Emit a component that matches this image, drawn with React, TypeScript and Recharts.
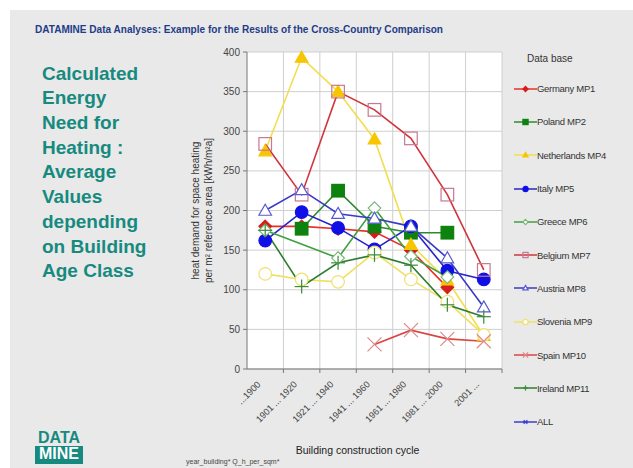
import React from "react";
import { LineChart, Line, XAxis, YAxis, CartesianGrid, Legend } from "recharts";

const categories = ["...1900", "1901 ... 1920", "1921 ... 1940", "1941 ... 1960", "1961 ... 1980", "1981 ... 2000", "2001 ..."];
const germany = [180, 180, 177, 173, 150, 103, null];
const poland = [null, 177, 225, 180, 172, 172, null];
const netherlands = [275, 393, 350, 290, 157, 112, 42];
const italy = [162, 198, 178, 151, 180, 124, 113];
const greece = [175, null, 140, 203, 142, 116, null];
const belgium = [284, 220, 350, 327, 291, 220, 125];
const austria = [200, 226, 196, 190, 180, 140, 78];
const slovenia = [120, 113, 110, 147, 113, 85, 43];
const spain = [null, null, null, 31, 49, 38, 35];
const ireland = [175, 104, 134, 144, 131, 81, 66];
const allSeries = [null, null, null, null, null, null, null];
const yTicks = [0, 50, 100, 150, 200, 250, 300, 350, 400];

const seriesDefs = [
  { key: "germany", name: "Germany MP1", values: germany, line: "#e8302a", marker: "diamond", mfill: "#d81c1c", mstroke: "#d81c1c" },
  { key: "poland", name: "Poland MP2", values: poland, line: "#2f8a2f", marker: "square", mfill: "#0e820e", mstroke: "#0e820e" },
  { key: "netherlands", name: "Netherlands MP4", values: netherlands, line: "#f2de4e", marker: "triangle", mfill: "#f7c600", mstroke: "#f7c600" },
  { key: "italy", name: "Italy MP5", values: italy, line: "#2424c8", marker: "circle", mfill: "#1010e6", mstroke: "#1010e6" },
  { key: "greece", name: "Greece MP6", values: greece, line: "#40a040", marker: "diamond", mfill: "#ffffff", mstroke: "#7ab87a", connect: true },
  { key: "belgium", name: "Belgium MP7", values: belgium, line: "#d0343c", marker: "square", mfill: "none", mstroke: "#c87890" },
  { key: "austria", name: "Austria MP8", values: austria, line: "#3a3ac8", marker: "triangle", mfill: "#ffffff", mstroke: "#5a5ad0" },
  { key: "slovenia", name: "Slovenia MP9", values: slovenia, line: "#f0e060", marker: "circle", mfill: "#ffffff", mstroke: "#f0e070" },
  { key: "spain", name: "Spain MP10", values: spain, line: "#dc4444", marker: "x", mfill: "none", mstroke: "#e08888" },
  { key: "ireland", name: "Ireland MP11", values: ireland, line: "#2e7d2e", marker: "plus", mfill: "none", mstroke: "#3a8a3a" },
  { key: "all", name: "ALL", values: allSeries, line: "#3c3cd0", marker: "star", mfill: "#3c3cd0", mstroke: "#3c3cd0" },
];

const data = categories.map((c, i) => {
  const row: any = { cat: c };
  seriesDefs.forEach((s) => (row[s.key] = s.values[i]));
  return row;
});

const W = 633;
const H = 468;
const M = { top: 52, right: 131, bottom: 39, left: 187 };
const Y_W = 60;
const X_H = 60;
const PLOT_W = W - M.left - Y_W - M.right;
const BAND = PLOT_W / categories.length;

function Marker({ type, cx, cy, r, fill, stroke }: any) {
  if (cx == null || cy == null) return null;
  switch (type) {
    case "diamond":
      return <polygon points={`${cx},${cy - r} ${cx + r},${cy} ${cx},${cy + r} ${cx - r},${cy}`} fill={fill} stroke={stroke} strokeWidth={1.2} />;
    case "square":
      return <rect x={cx - r} y={cy - r} width={2 * r} height={2 * r} fill={fill} stroke={stroke} strokeWidth={1.2} />;
    case "triangle":
      return <polygon points={`${cx},${cy - r} ${cx + r},${cy + r * 0.75} ${cx - r},${cy + r * 0.75}`} fill={fill} stroke={stroke} strokeWidth={1.2} />;
    case "circle":
      return <circle cx={cx} cy={cy} r={r} fill={fill} stroke={stroke} strokeWidth={1.2} />;
    case "x":
      return <g stroke={stroke} strokeWidth={1.2}><line x1={cx - r} y1={cy - r} x2={cx + r} y2={cy + r} /><line x1={cx - r} y1={cy + r} x2={cx + r} y2={cy - r} /></g>;
    case "plus":
      return <g stroke={stroke} strokeWidth={1.2}><line x1={cx - r} y1={cy} x2={cx + r} y2={cy} /><line x1={cx} y1={cy - r} x2={cx} y2={cy + r} /></g>;
    case "star":
      return <g stroke={stroke} strokeWidth={1.2}><line x1={cx - r} y1={cy} x2={cx + r} y2={cy} /><line x1={cx - r * 0.7} y1={cy - r * 0.7} x2={cx + r * 0.7} y2={cy + r * 0.7} /><line x1={cx - r * 0.7} y1={cy + r * 0.7} x2={cx + r * 0.7} y2={cy - r * 0.7} /></g>;
    default:
      return null;
  }
}

const makeDot = (s: any) => (props: any) => {
  const { cx, cy, index, value } = props;
  if (value == null || cx == null || cy == null) return <g key={`${s.key}-${index}`} />;
  const r = s.marker === "x" || s.marker === "plus" ? 7 : 6.3;
  return (
    <g key={`${s.key}-${index}`}>
      <Marker type={s.marker} cx={cx} cy={cy} r={r} fill={s.mfill} stroke={s.mstroke} />
    </g>
  );
};

const XTick = (props: any) => {
  const { x, y, payload } = props;
  const tx = x - 4;
  const ty = y + 16;
  return (
    <g>
      <line x1={x + BAND / 2} x2={x + BAND / 2} y1={y} y2={y + 4} stroke="#777" />
      <text x={tx} y={ty} textAnchor="end" transform={`rotate(-45 ${tx} ${ty})`} fontSize={9.2} fill="#444" fontFamily="Liberation Sans, Arial, sans-serif">
        {payload.value}
      </text>
    </g>
  );
};

const XLabel = (props: any) => {
  const vb = props.viewBox || {};
  const cx = vb.x + vb.width / 2 - 17;
  return (
    <text x={cx} y={vb.y + 85} textAnchor="middle" fontSize={10.5} fill="#222" fontFamily="Liberation Sans, Arial, sans-serif">
      Building construction cycle
    </text>
  );
};

const YLabel = (props: any) => {
  const vb = props.viewBox || {};
  const cy = vb.y + vb.height / 2;
  const x1 = vb.x + 12;
  const x2 = vb.x + 25;
  return (
    <g fontSize={10} fill="#333" fontFamily="Liberation Sans, Arial, sans-serif">
      <text x={x1} y={cy} textAnchor="middle" transform={`rotate(-90 ${x1} ${cy})`}>heat demand for space heating</text>
      <text x={x2} y={cy} textAnchor="middle" transform={`rotate(-90 ${x2} ${cy})`}>per m² reference area [kWh/m²a]</text>
    </g>
  );
};

const renderLegend = () => (
  <div style={{ fontFamily: "Liberation Sans, Arial, sans-serif", color: "#333", textAlign: "left" }}>
    <div style={{ fontSize: 10, marginLeft: 22, height: 26, lineHeight: "26px" }}>Data base</div>
    {seriesDefs.map((s) => (
      <div key={s.key} style={{ display: "flex", alignItems: "center", height: 33.3 }}>
        <svg width={23} height={12} style={{ marginLeft: 9 }}>
          <line x1={0} y1={6} x2={23} y2={6} stroke={s.line} strokeWidth={1.5} />
          <Marker type={s.marker} cx={11.5} cy={6} r={2.6} fill={s.mfill} stroke={s.mstroke} />
        </svg>
        <span style={{ fontSize: 9.5, letterSpacing: -0.3 }}>{s.name}</span>
      </div>
    ))}
  </div>
);

const leftLines = ["Calculated", "Energy", "Need for", "Heating :", "Average", "Values", "depending", "on Building", "Age Class"];

export default function App() {
  return (
    <div style={{ position: "fixed", left: 0, top: 0, width: W, height: H, background: "#ffffff", overflow: "hidden" }}>
      <div style={{ position: "absolute", left: 10, top: 10, width: W - 10, height: H - 10, background: "#e9e9e9" }} />
      <svg style={{ position: "absolute", left: 0, top: 0 }} width={W} height={40}>
        <text x={35} y={33} fontSize={11} fontWeight="bold" fill="#1f3c88" fontFamily="Liberation Sans, Arial, sans-serif" textLength={408} lengthAdjust="spacingAndGlyphs">
          DATAMINE Data Analyses: Example for the Results of the Cross-Country Comparison
        </text>
      </svg>
      <div style={{ position: "absolute", left: 42, top: 61.6, fontFamily: "Liberation Sans, Arial, sans-serif", fontWeight: "bold", fontSize: 19, lineHeight: "24.7px", color: "#178a7f" }}>
        {leftLines.map((l) => (
          <div key={l}>{l}</div>
        ))}
      </div>
      <div style={{ position: "absolute", left: 35, top: 430, width: 48, fontFamily: "Liberation Sans Narrow, Arial Narrow, Liberation Sans, sans-serif", fontWeight: "bold", fontSize: 16, lineHeight: "16px", textAlign: "center" }}>
        <div style={{ color: "#178a7f" }}>DATA</div>
        <div style={{ color: "#ffffff", background: "#178a7f", height: 18 }}>MINE</div>
      </div>
      <div style={{ position: "absolute", left: 186, top: 458, fontSize: 7, color: "#444", fontFamily: "Liberation Sans, Arial, sans-serif" }}>year_building*  Q_h_per_sqm*</div>
      <div style={{ position: "absolute", left: 0, top: 0 }}>
        <LineChart width={W} height={H} data={data} margin={M}>
          <CartesianGrid
            fill="#ffffff"
            stroke="#cfcfcf"
            verticalCoordinatesGenerator={({ offset }: any) => categories.map((_, i) => offset.left + (i + 1) * (offset.width / categories.length))}
          />
          <XAxis
            dataKey="cat"
            height={X_H}
            interval={0}
            padding={{ left: BAND / 2, right: BAND / 2 }}
            tickLine={false}
            tickSize={0}
            tickMargin={0}
            tick={<XTick />}
            stroke="#777"
            label={<XLabel />}
          />
          <YAxis
            width={Y_W}
            domain={[0, 400]}
            ticks={yTicks}
            interval={0}
            tickSize={4}
            tickMargin={3}
            stroke="#777"
            tick={{ fontSize: 10, fill: "#444", fontFamily: "Liberation Sans, Arial, sans-serif" }}
            label={<YLabel />}
          />
          <Legend content={renderLegend} layout="horizontal" verticalAlign="middle" align="center" wrapperStyle={{ position: "absolute", left: 505, top: 46, width: 128 }} />
          {seriesDefs.map((s) => (
            <Line
              key={s.key}
              dataKey={s.key}
              name={s.name}
              stroke={s.line}
              strokeWidth={1.6}
              dot={makeDot(s)}
              activeDot={false}
              connectNulls={!!(s as any).connect}
              isAnimationActive={false}
              type="linear"
            />
          ))}
        </LineChart>
      </div>
    </div>
  );
}
